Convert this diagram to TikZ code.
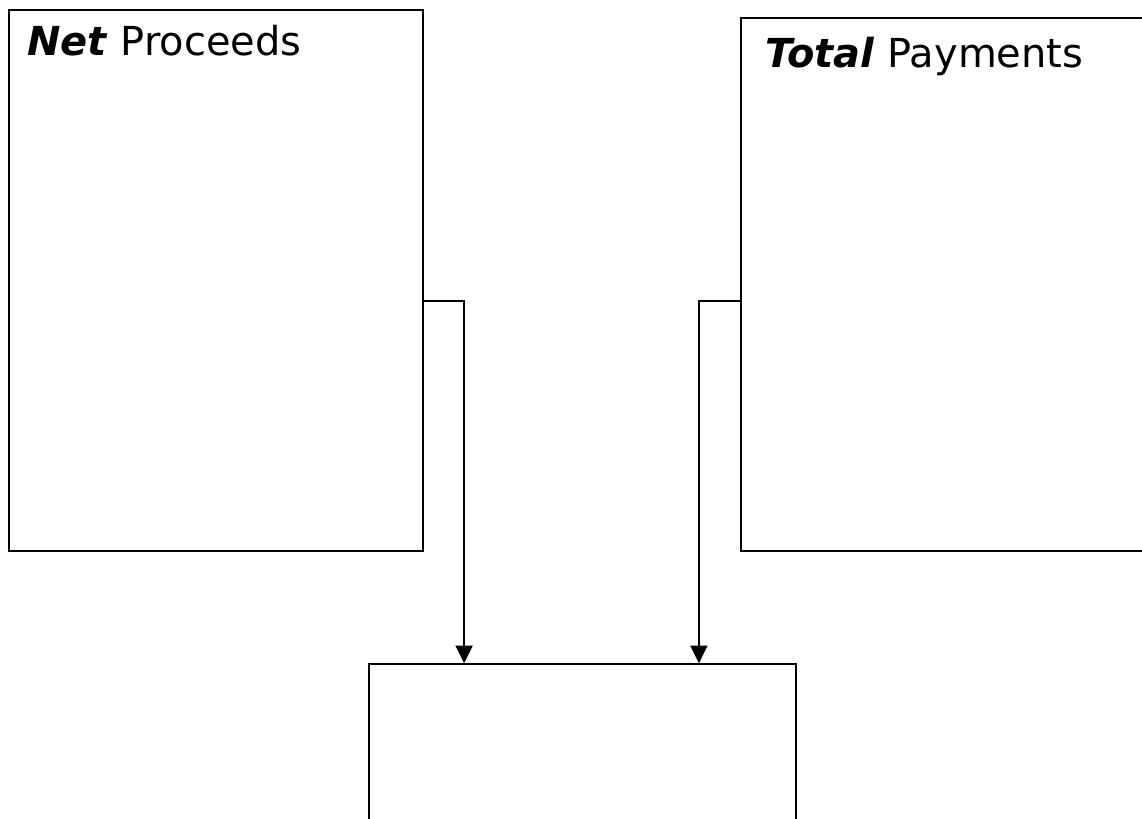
\documentclass[tikz,border=0pt]{standalone}
\usepackage{fontspec}
\setmainfont{DejaVu Sans}
\usetikzlibrary{arrows.meta}

\tikzset{
  panel/.style={draw, line width=1pt, rectangle, inner sep=0pt},
  heading/.style={anchor=base west, inner sep=0pt, font=\fontsize{28.4}{32}\selectfont},
  feed/.style={line width=1.4pt, -{Triangle[width=0.42cm,length=0.44cm]}}
}

\begin{document}
\begin{tikzpicture}
    \useasboundingbox (0,0) rectangle (28.55,-20.475);
    \clip (0,0) rectangle (28.55,-20.475);
    % the three boxes
    \node[panel, minimum width=10.35cm, minimum height=13.525cm] (net) at (5.4,-7.0125) {};
    \node[panel, minimum width=10.475cm, minimum height=13.325cm] (total) at (23.7625,-7.1125) {};
    \node[panel, minimum width=10.675cm, minimum height=5.4cm] (result) at (14.5625,-19.3) {};
    % headings
    \node[heading] (netlabel) at (0.675,-1.4) {\textbf{\textit{Net}} Proceeds};
    \node[heading] (totallabel) at (19.125,-1.7) {\textbf{\textit{Total}} Payments};
    % links down to the result box
    \draw[feed] ([yshift=-0.51cm]net.east) -| ([xshift=-2.96cm]result.north);
    \draw[feed] ([yshift=-0.41cm]total.west) -| ([xshift=2.91cm]result.north);
  \end{tikzpicture}
\end{document}
